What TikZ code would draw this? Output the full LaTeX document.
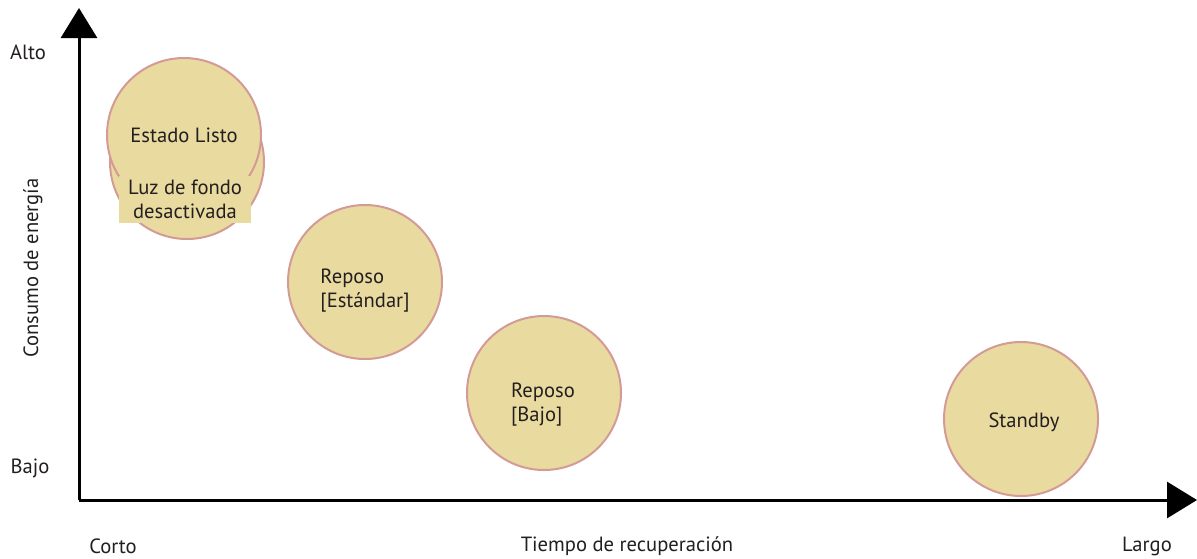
\documentclass[tikz,border=0pt]{standalone}
\usepackage{fontspec}
\setmainfont{PT Sans}
\usetikzlibrary{arrows.meta}
\definecolor{bub}{HTML}{E9DBA0}
\definecolor{rim}{HTML}{D49A95}
\definecolor{ink}{HTML}{231F20}
\tikzstyle{st}=[circle,draw=rim,fill=bub,line width=1pt,minimum size=77pt,inner sep=0pt]
\tikzstyle{lbl}=[text=ink,font=\fontsize{10.3}{12}\selectfont,inner sep=0pt]
\tikzstyle{ax}=[line width=1.5pt,-{Triangle[width=18pt,length=15pt]}]

\begin{document}
\begin{tikzpicture}[x=.5pt,y=-.5pt]
\useasboundingbox (0,0) rectangle (1197,558);
% axes
\coordinate (o) at (79,500);
\coordinate (ytop) at (79,8);
\coordinate (xend) at (1197,500);
\draw[ax] (o) -- (ytop);
\draw[ax] (o) -- (xend);
\node[lbl] (alto) at (28,52) {Alto};
\node[lbl] (bajo) at (30,468) {Bajo};
\node[lbl,rotate=90] (cons) at (33,268) {Consumo de energía};
\node[lbl] (corto) at (113,546) {Corto};
\node[lbl] (tiempo) at (627,546) {Tiempo de recuperación};
\node[lbl] (largo) at (1147,546) {Largo};
% states
\node[st] (luz) at (187,162) {};
\node[st] (listo) at (184,135) {};
\node[lbl] at (listo.center) {Estado Listo};
\node[lbl,fill=bub,align=center,minimum width=66pt,minimum height=23.5pt] (luzt) at (185,199) {Luz de fondo\\desactivada};
\node[st] (rest) at (365,282) {};
\node[lbl,align=left] at (365,291) {Reposo\\{[}Estándar{]}};
\node[st] (rbajo) at (544,393) {};
\node[lbl,align=left] at (543,405) {Reposo\\{[}Bajo{]}};
\node[st] (stby) at (1021,419) {};
\node[lbl] at (1024,422) {Standby};
\end{tikzpicture}
\end{document}
